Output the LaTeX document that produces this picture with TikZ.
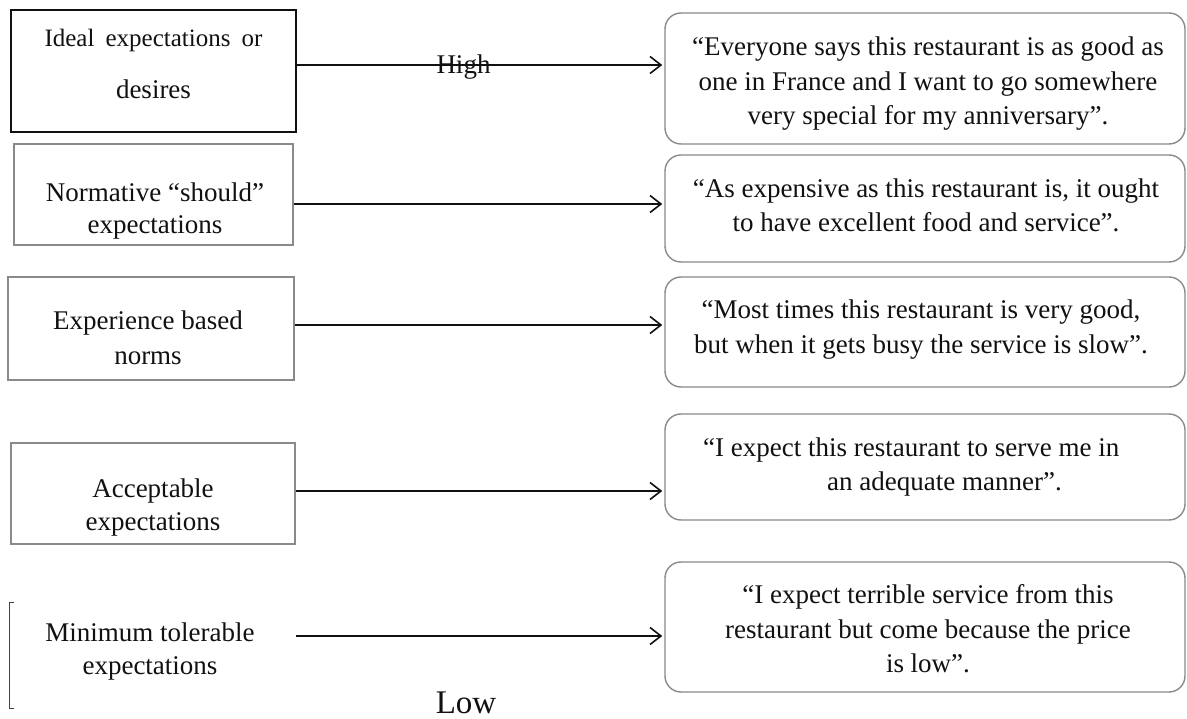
\documentclass[tikz,border=0pt]{standalone}
\usepackage{fontspec}
\setmainfont{Liberation Serif}
\usetikzlibrary{arrows.meta}
\definecolor{ink}{HTML}{111111}
\definecolor{framegray}{HTML}{8A8A8A}
\tikzset{
  levelbox/.style={draw=framegray, line width=1.3pt, inner sep=0pt},
  quotebox/.style={draw=framegray, line width=1.4pt, rounded corners=16pt, inner sep=0pt},
  leveltext/.style={inner sep=0pt, align=center, text=ink},
  quotetext/.style={inner sep=0pt, align=center, text=ink},
  link/.style={draw=ink, line width=2pt,
    -{Straight Barb[length=11pt,width=17pt,line width=1.6pt]}, shorten >=2pt},
  scalelabel/.style={inner sep=0pt, anchor=base, text=ink},
}
\begin{document}
\begin{tikzpicture}[x=1pt,y=-1pt]
\fill[white] (0,0) rectangle (1187,719);
\useasboundingbox (0,0) rectangle (1187,719);

% expectation levels (left column)
\node[levelbox, draw=ink, line width=1.4pt, minimum width=285pt, minimum height=122pt] (L1) at (153.5,71) {};
\node[leveltext, font=\fontsize{25}{52}\selectfont] (L1t) at (153.5,62.6)
  {\strut\makebox[218pt][s]{Ideal expectations or}\\\fontsize{27}{52}\selectfont\strut desires};

\node[levelbox, minimum width=279pt, minimum height=101pt] (L2) at (153.5,194.5) {};
\node[leveltext, font=\fontsize{27}{32}\selectfont] (L2t) at (155,211.6)
  {\strut Normative “should”\\\strut expectations};

\node[levelbox, minimum width=286pt, minimum height=103pt] (L3) at (151,328.5) {};
\node[leveltext, font=\fontsize{27}{35}\selectfont] (L3t) at (148,340)
  {\strut Experience based\\\strut norms};

\node[levelbox, minimum width=284pt, minimum height=101pt] (L4) at (153,493.5) {};
\node[leveltext, font=\fontsize{27}{33}\selectfont] (L4t) at (153,507.4)
  {\strut Acceptable\\\strut expectations};

\node[inner sep=0pt, minimum width=286pt, minimum height=105pt] (L5) at (153,655.5) {};
\draw[draw=ink!80, line width=1.2pt] ([xshift=4pt]L5.north west) -- (L5.north west)
  -- (L5.south west) -- ([xshift=4pt]L5.south west);
\node[leveltext, font=\fontsize{27}{33}\selectfont] (L5t) at (150,650.9)
  {\strut Minimum tolerable\\\strut expectations};

% customer statements (right column)
\node[quotebox, minimum width=520pt, minimum height=131pt] (R1) at (925,78.5) {};
\node[quotetext, font=\fontsize{27}{34.5}\selectfont] (R1t) at (928,83.6)
  {\strut“Everyone says this restaurant is as good as\\
   \strut one in France and I want to go somewhere\\
   \strut very special for my anniversary”.};

\node[quotebox, minimum width=520pt, minimum height=107pt] (R2) at (925,208.5) {};
\node[quotetext, font=\fontsize{27}{34}\selectfont] (R2t) at (926,207.7)
  {\strut“As expensive as this restaurant is, it ought\\
   \strut to have excellent food and service”.};

\node[quotebox, minimum width=520pt, minimum height=110pt] (R3) at (925,332) {};
\node[quotetext, font=\fontsize{27}{35}\selectfont] (R3t) at (921,329)
  {\strut“Most times this restaurant is very good,\\
   \strut but when it gets busy the service is slow”.};

\node[quotebox, minimum width=520pt, minimum height=106pt] (R4) at (925,467) {};
\node[quotetext, align=left, anchor=west, font=\fontsize{27}{34}\selectfont] (R4t) at (703,467)
  {\strut“I expect this restaurant to serve me in\\
   \hspace*{124pt}\strut an adequate manner”.};

\node[quotebox, minimum width=520pt, minimum height=130pt] (R5) at (925,627) {};
\node[quotetext, font=\fontsize{27}{34.5}\selectfont] (R5t) at (928,631.3)
  {\strut“I expect terrible service from this\\
   \strut restaurant but come because the price\\
   \strut is low”.};

% connectors
\coordinate (row1) at (0,65);
\coordinate (row2) at (0,204);
\coordinate (row3) at (0,325);
\coordinate (row4) at (0,491);
\coordinate (row5) at (0,636);
\draw[link] (L1.east |- row1) -- (R1.west |- row1);
\draw[link] (L2.east |- row2) -- (R2.west |- row2);
\draw[link] (L3.east |- row3) -- (R3.west |- row3);
\draw[link] (L4.east |- row4) -- (R4.west |- row4);
\draw[link] (L5.east |- row5) -- (R5.west |- row5);

% scale ends
\node[scalelabel, font=\fontsize{27}{27}\selectfont] (high) at (463.5,74) {High};
\node[scalelabel, font=\fontsize{33}{33}\selectfont] (low) at (466,713) {Low};
\end{tikzpicture}
\end{document}
